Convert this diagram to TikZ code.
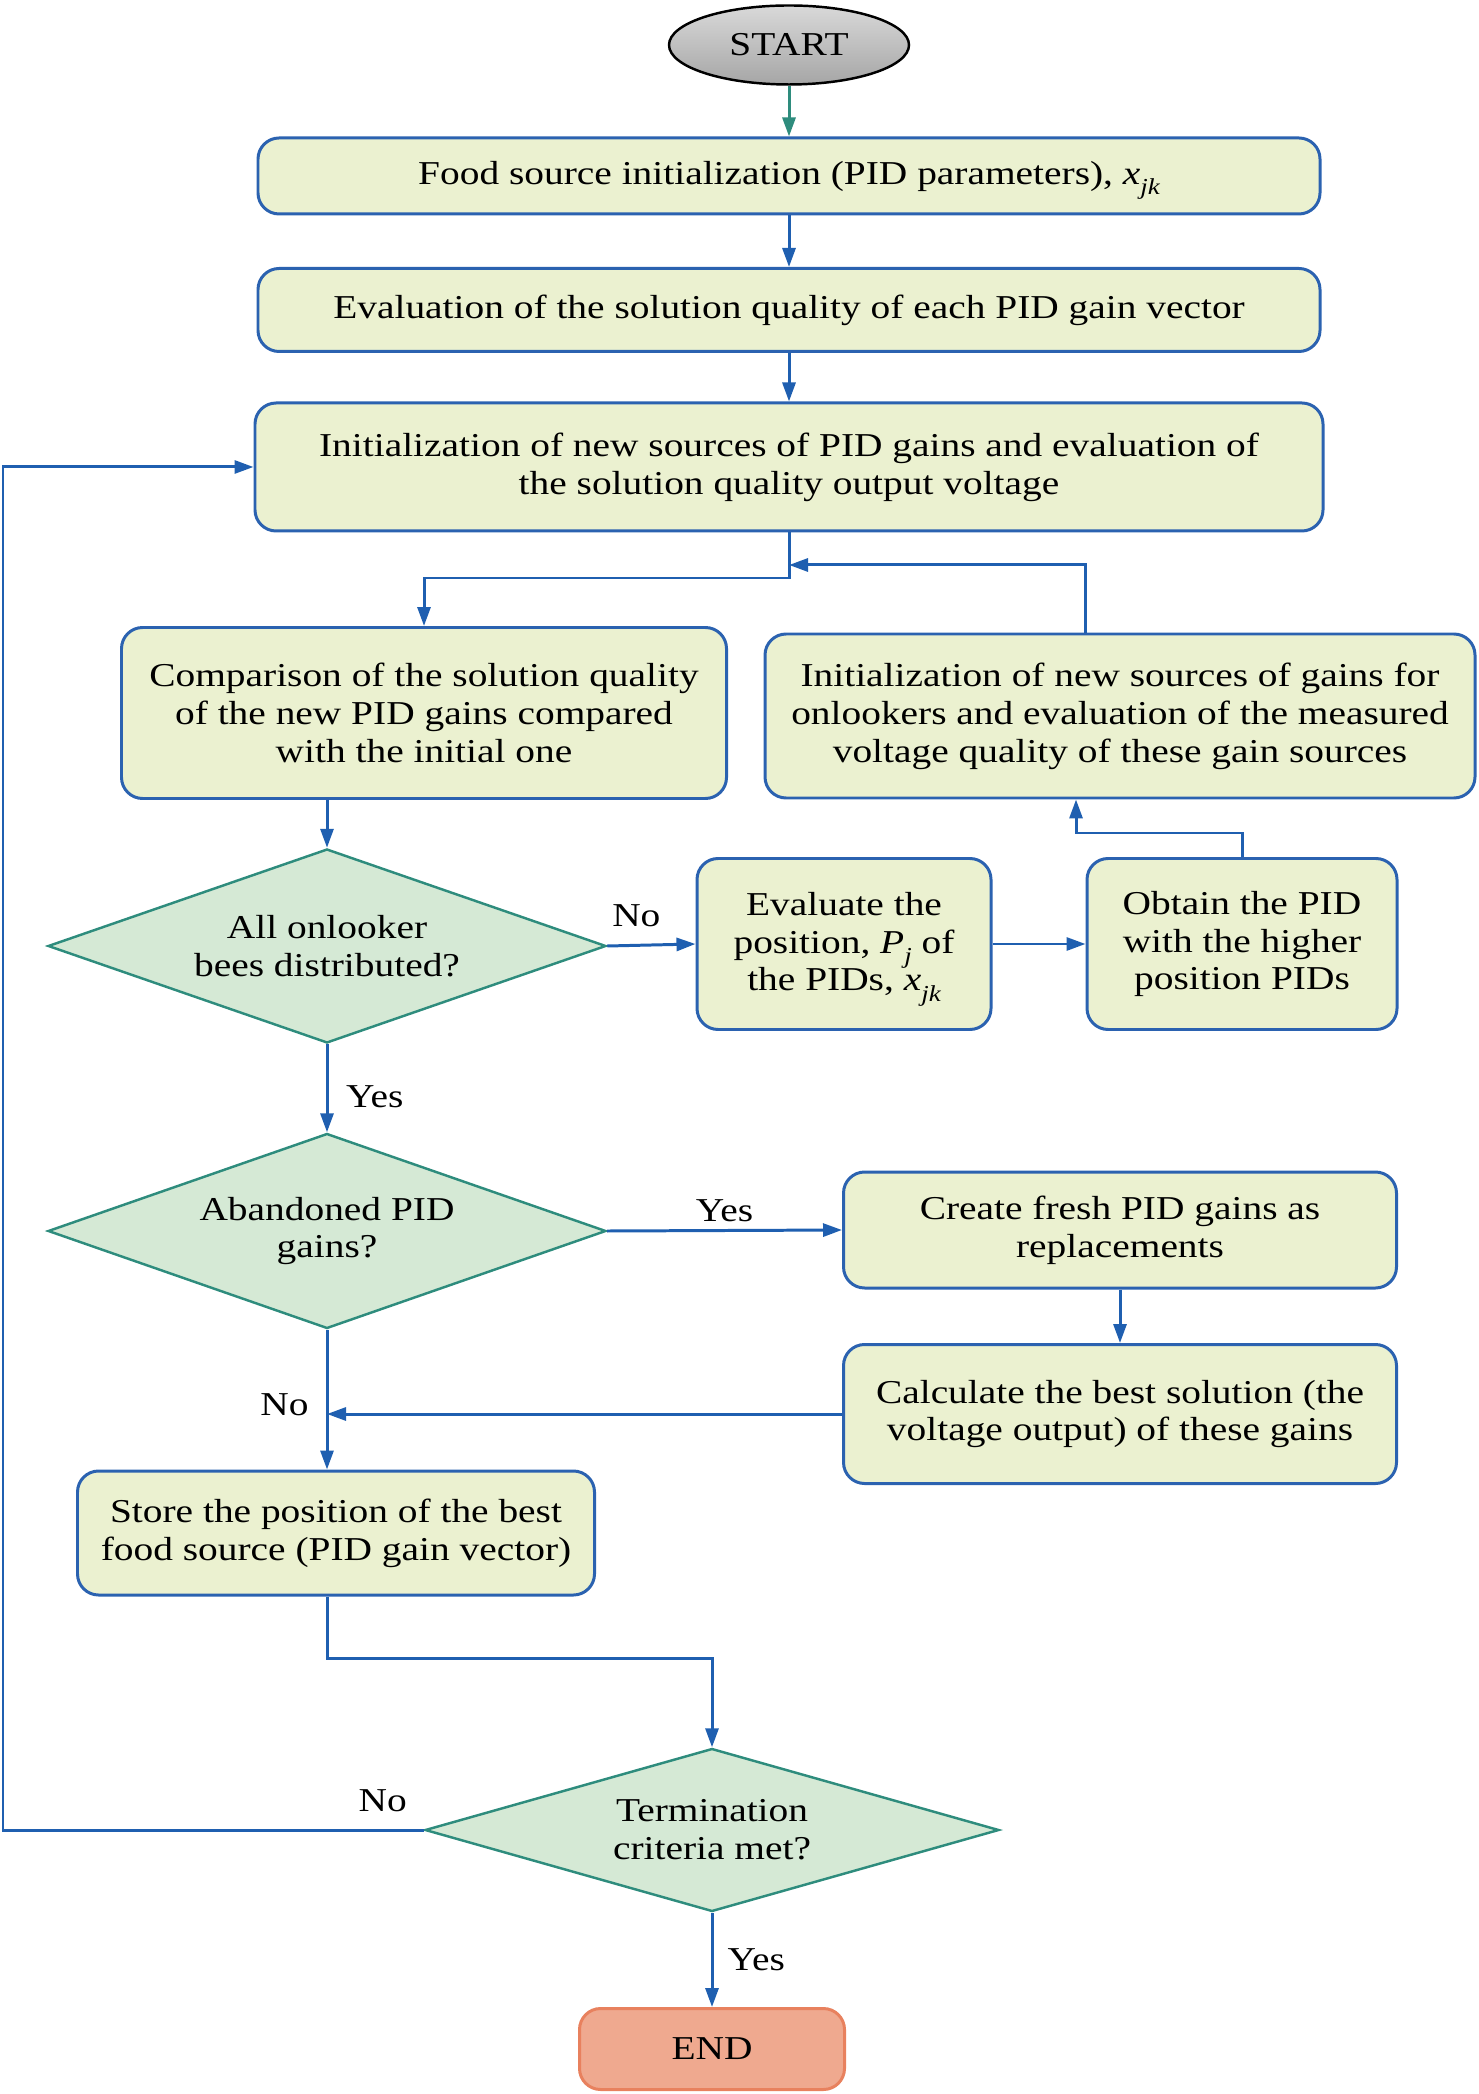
\documentclass[tikz,border=0pt]{standalone}
\usepackage{fontspec}
\setmainfont{Liberation Serif}[FakeStretch=1.18]
\usetikzlibrary{arrows.meta, shapes.geometric}

\definecolor{boxfill}{HTML}{EBF1D0}
\definecolor{boxline}{HTML}{2B62B0}
\definecolor{decfill}{HTML}{D5E9D5}
\definecolor{decline}{HTML}{2E8C7D}
\definecolor{endfill}{HTML}{EFA98F}
\definecolor{endline}{HTML}{E8815E}
\definecolor{flow}{HTML}{1F5FB0}

\newcommand{\subit}[2]{\textit{#1}\smash{\raisebox{-0.7ex}{\fontsize{6.5}{7}\selectfont\itshape #2}}}

\begin{document}
\begin{tikzpicture}[
  >={Triangle[length=1.9mm, width=1.3mm]}, line width=0.85pt,
  font=\fontsize{9.5}{10.8}\selectfont,
  caja/.style={draw=boxline, fill=boxfill, rounded corners=6pt,
               align=center, inner sep=3pt},
  rombo/.style={diamond, draw=decline, fill=decfill, align=center,
                inner sep=0pt, line width=0.7pt},
  flecha/.style={->, draw=flow},
  lbl/.style={inner sep=2pt}]

  \useasboundingbox (0,0) rectangle (14.78,-20.94);

  % terminals
  \node[ellipse, draw=black, line width=0.7pt, top color=gray!30,
        bottom color=gray!70, minimum width=2.4cm, minimum height=0.79cm]
        (start) at (7.89,-0.45) {START};
  \node[draw=endline, fill=endfill, rounded corners=6pt,
        minimum width=2.65cm, minimum height=0.81cm]
        (stop) at (7.12,-20.49) {END};

  % main column
  \node[caja, minimum width=10.62cm, minimum height=0.76cm] (init) at (7.89,-1.76)
    {Food source initialization (PID parameters), \subit{x}{jk}};
  \node[caja, minimum width=10.62cm, minimum height=0.83cm] (eval) at (7.89,-3.10)
    {Evaluation of the solution quality of each PID gain vector};
  \node[caja, minimum width=10.68cm, minimum height=1.28cm] (newsrc) at (7.89,-4.67)
    {Initialization of new sources of PID gains and evaluation of\\
     the solution quality output voltage};

  \node[caja, minimum width=6.05cm, minimum height=1.71cm] (comp) at (4.24,-7.13)
    {Comparison of the solution quality\\of the new PID gains compared\\
     with the initial one};
  \node[caja, minimum width=7.10cm, minimum height=1.64cm] (onlook) at (11.20,-7.16)
    {Initialization of new sources of gains for\\onlookers and evaluation of the measured\\
     voltage quality of these gain sources};

  \node[rombo, aspect=2.9, minimum width=5.58cm, minimum height=1.94cm] (dist) at (3.27,-9.46)
    {All onlooker\\bees distributed?};
  \node[caja, minimum width=2.94cm, minimum height=1.71cm] (evalpos) at (8.44,-9.44)
    {Evaluate the\\position, \subit{P}{j} of\\the PIDs, \subit{x}{jk}};
  \node[caja, minimum width=3.10cm, minimum height=1.71cm] (obtain) at (12.42,-9.44)
    {Obtain the PID\\with the higher\\position PIDs};

  \node[rombo, aspect=2.9, minimum width=5.58cm, minimum height=1.95cm] (aband) at (3.27,-12.31)
    {Abandoned PID\\gains?};
  \node[caja, minimum width=5.53cm, minimum height=1.16cm] (fresh) at (11.20,-12.30)
    {Create fresh PID gains as\\replacements};
  \node[caja, minimum width=5.53cm, minimum height=1.39cm] (calc) at (11.20,-14.14)
    {Calculate the best solution (the\\voltage output) of these gains};

  \node[caja, minimum width=5.17cm, minimum height=1.24cm] (store) at (3.36,-15.33)
    {Store the position of the best\\food source (PID gain vector)};
  \node[rombo, aspect=3.5, minimum width=5.74cm, minimum height=1.63cm] (term) at (7.12,-18.30)
    {Termination\\criteria met?};

  % junctions
  \coordinate (j1) at (7.89,-5.78);
  \coordinate (j2) at (7.89,-5.65);
  \coordinate (lft) at (0.03,-18.30);

  % connectors
  \draw[->, draw=decline] (start) -- (init);
  \draw[flecha] (init) -- (eval);
  \draw[flecha] (eval) -- (newsrc);
  \draw[flecha] (newsrc.south) -- (j1) -| (comp.north);
  \draw[flecha] ([xshift=-3.5mm]onlook.north) |- (j2);
  \draw[flecha] (comp.south -| dist.north) -- (dist.north);
  \draw[flecha] (dist.east) -- (evalpos.west)
    node[lbl, pos=0.33, above, yshift=1mm] (no1) {No};
  \draw[flecha] (evalpos) -- (obtain);
  \draw[flecha] (obtain.north) -- ++(0,0.24) -| ([xshift=-4.4mm]onlook.south);
  \draw[flecha] (dist.south) -- (aband.north)
    node[lbl, pos=0.6, right=3pt] (yes1) {Yes};
  \draw[flecha] (aband.east) -- (fresh.west)
    node[lbl, midway, above] (yes2) {Yes};
  \draw[flecha] (fresh) -- (calc);
  \draw[flecha] (calc.west) -- (calc.west -| aband.south)
    node[lbl, at end, above left, yshift=-1mm, xshift=-1mm] (no2) {No};
  \draw[flecha] (aband.south) -- (aband.south |- store.north);
  \draw[flecha] (aband.south |- store.south) -- ++(0,-0.62) -| (term.north);
  \draw[flecha] (term.west) -- node[lbl, pos=0.02, above left, yshift=1mm] (no3) {No} (lft)
    |- (newsrc.west);
  \draw[flecha] (term.south) -- (stop.north)
    node[lbl, midway, right=2pt] (yes3) {Yes};
\end{tikzpicture}
\end{document}
